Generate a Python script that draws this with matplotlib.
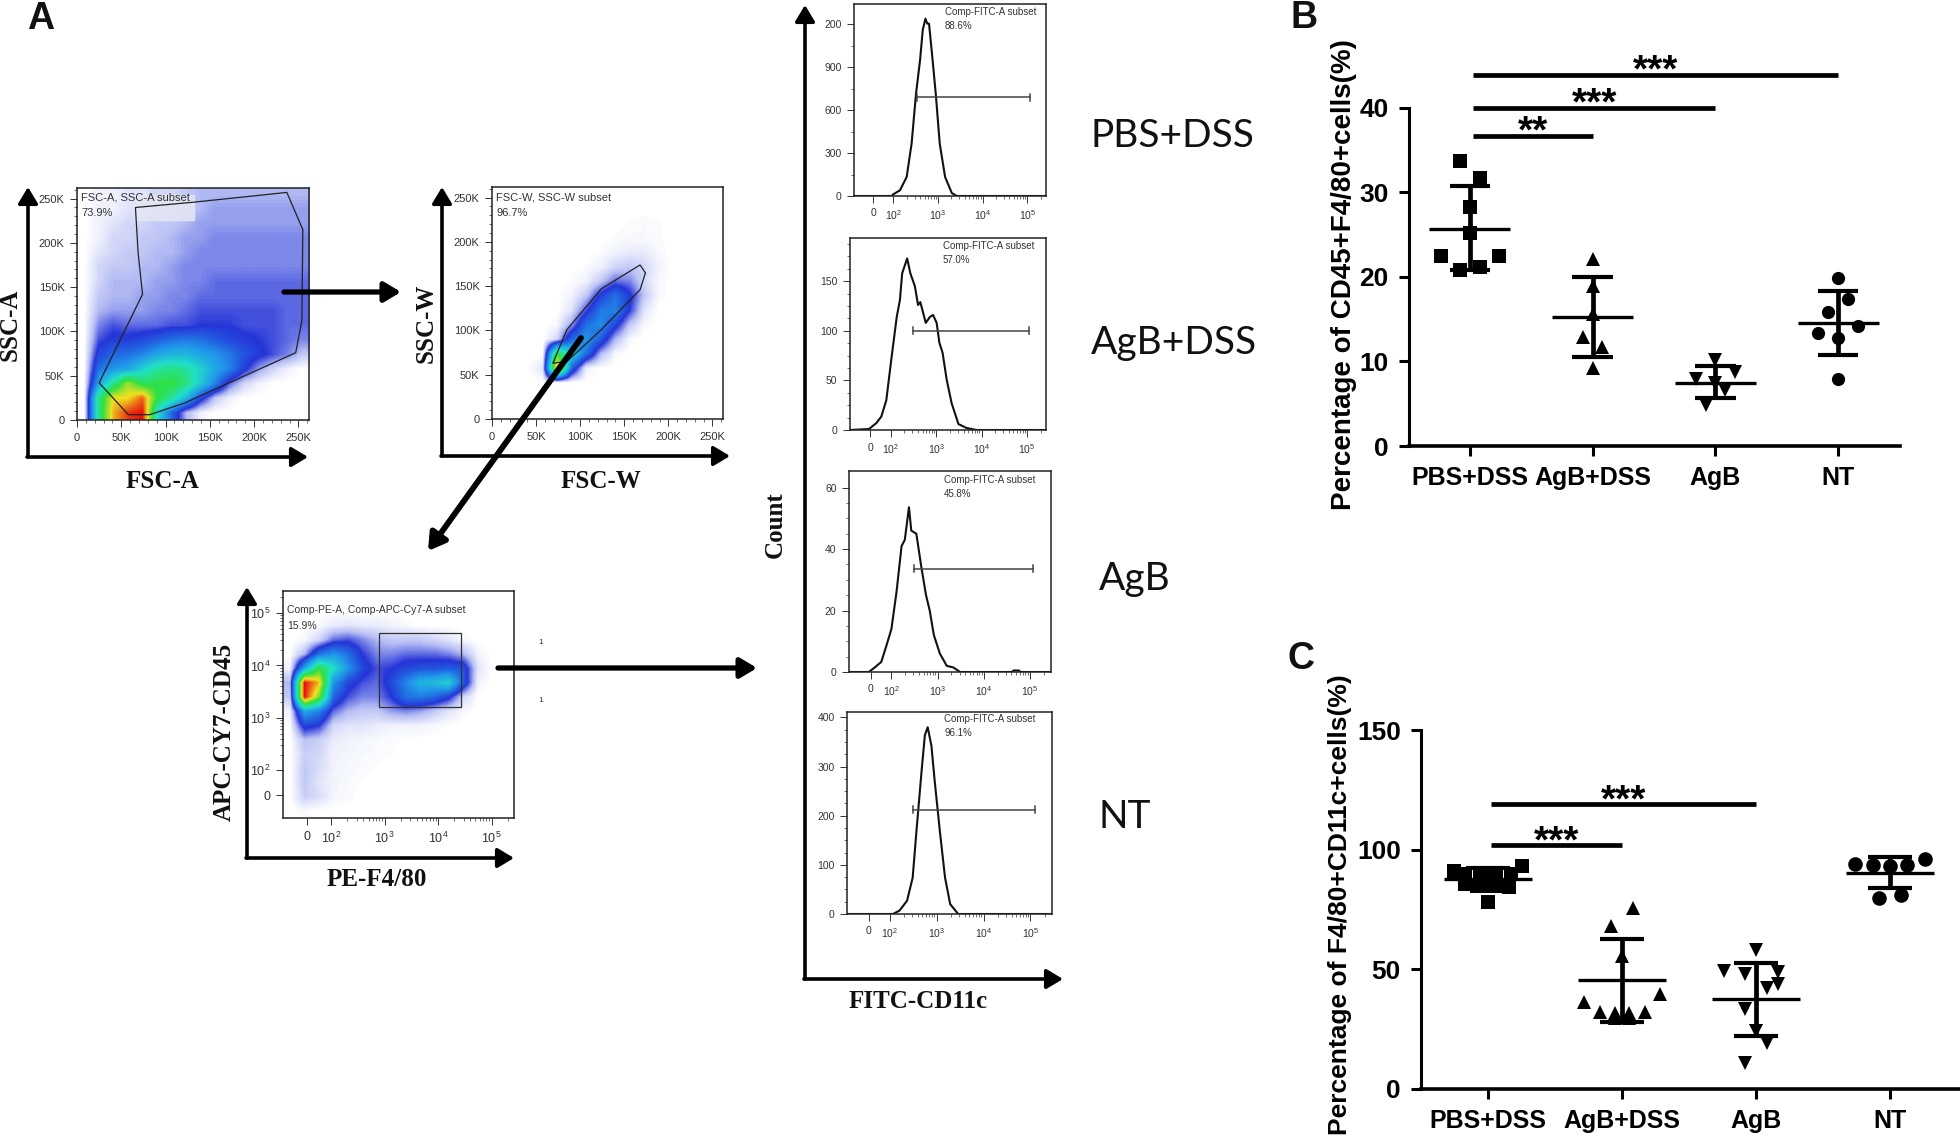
import matplotlib
matplotlib.use("Agg")
import matplotlib.pyplot as plt
import numpy as np
from matplotlib.colors import LinearSegmentedColormap
from matplotlib.patches import Polygon, Rectangle

W, H = 1960, 1142

# scatter panels
groups = ['PBS+DSS', 'AgB+DSS', 'AgB', 'NT']
markers = ['s', '^', 'v', 'o']

b_values = [[33.7, 31.7, 28.2, 25.2, 22.4, 22.5, 20.8, 21.2],
            [22.1, 18.9, 15.6, 12.9, 11.7, 9.2],
            [10.2, 8.8, 7.9, 7.4, 6.6, 4.9],
            [19.8, 17.4, 15.8, 14.2, 13.3, 12.8, 7.9]]
b_jitter = [[-0.08, 0.08, 0, 0, -0.24, 0.24, -0.08, 0.08],
            [0, 0, 0, -0.08, 0.08, 0],
            [0, 0.16, -0.16, 0, 0.08, -0.08],
            [0, 0.08, -0.08, 0.16, -0.16, 0, 0]]
b_mean = [25.7, 15.3, 7.5, 14.5]
b_upper = [30.7, 20.0, 9.4, 18.3]
b_lower = [20.8, 10.5, 5.7, 10.8]

c_values = [[90.9, 93.2, 89.7, 89.7, 89.7, 89.7, 85.6, 85.0, 85.0, 85.0, 84.2, 78.3],
            [75.8, 68.2, 55.7, 39.9, 36.5, 32.0, 31.6, 31.6, 32.3, 29.5, 29.5],
            [58.0, 49.1, 48.0, 48.7, 43.8, 42.4, 33.4, 24.3, 19.1, 10.7],
            [94.2, 95.9, 93.6, 93.2, 93.6, 80.0, 81.0]]
c_jitter = [[-0.25, 0.255, -0.17, -0.06, 0.06, 0.17, -0.17, -0.08, 0, 0.08, 0.16, 0],
            [0.085, -0.08, 0, 0.28, -0.28, -0.165, -0.055, 0.055, 0.17, -0.05, 0.05],
            [0, -0.24, -0.08, 0.165, 0.165, 0.085, -0.08, 0, 0.085, -0.08],
            [-0.26, 0.26, -0.13, 0, 0.13, -0.08, 0.08]]
c_mean = [87.7, 45.4, 37.4, 90.4]
c_upper = [92.2, 62.5, 52.7, 97.1]
c_lower = [83.5, 28.2, 22.1, 83.9]

# significance bars: start, end, height, stars
b_sig = [(0.024, 3.0, 43.8, '***'), (0.024, 2.0, 40.0, '***'), (0.024, 1.0, 36.6, '**')]
c_sig = [(0.025, 2.0, 119.0, '***'), (0.025, 1.0, 101.8, '***')]

# histogram curves, x in decades on the biexponential axis
h1_x = [1.12, 1.96, 2.0, 2.15, 2.30, 2.41, 2.51, 2.60, 2.66, 2.72, 2.76, 2.80, 2.88, 2.95, 3.04, 3.16, 3.31, 3.42, 5.42]
h1_y = [0, 0, 12, 40, 133, 366, 717, 950, 1160, 1238, 1203, 1203, 950, 717, 366, 133, 21, 0, 0]
h2_x = [1.10, 1.52, 1.68, 1.79, 1.90, 2.01, 2.13, 2.20, 2.25, 2.36, 2.43, 2.53, 2.60, 2.65, 2.77, 2.86, 2.93, 3.01, 3.07, 3.14, 3.23, 3.34, 3.49, 3.67, 3.89, 5.42]
h2_y = [0, 1, 7, 13.5, 30, 71, 114, 131, 158, 173, 158, 145, 126, 129, 108, 114, 116, 108, 88, 78, 51, 27, 6, 2, 0, 0]
h3_x = [1.08, 1.51, 1.64, 1.78, 1.89, 2.0, 2.11, 2.22, 2.29, 2.38, 2.43, 2.54, 2.65, 2.75, 2.83, 2.92, 3.05, 3.2, 3.34, 3.49, 4.61, 4.65, 4.76, 4.80, 5.46]
h3_y = [0, 0, 1.5, 3.3, 8.5, 14, 26, 41, 43, 53.6, 46, 45, 34, 25, 20, 12, 6, 2, 1.5, 0, 0, 0.5, 0.5, 0, 0]
h4_x = [1.09, 2.07, 2.21, 2.37, 2.49, 2.57, 2.68, 2.75, 2.81, 2.89, 2.96, 3.07, 3.18, 3.29, 3.46, 5.46]
h4_y = [0, 0, 7, 27, 74, 168, 291, 364, 380, 342, 270, 168, 74, 20, 0, 0]

# flow density read by eye, 0 white to 6 red, rows from the top
fsc_density = [
    [0, .1, .1, .2, .2, .3, .3, .4, .5, .5, .5, .5, .5, .5, .5, .5],
    [0, .1, .1, .2, .2, .3, .3, .4, .5, .6, .6, .6, .6, .6, .6, .6],
    [0, .1, .2, .3, .3, .4, .4, .5, .6, .6, .6, .6, .6, .6, .6, .6],
    [0, .1, .3, .3, .4, .4, .5, .6, .6, .7, .7, .7, .7, .7, .7, .7],
    [0, .2, .3, .4, .4, .5, .5, .6, .7, .7, .7, .7, .7, .7, .7, .7],
    [0, .3, .4, .4, .5, .5, .6, .7, .7, .7, .7, .7, .7, .7, .7, .7],
    [0, .3, .5, .5, .5, .6, .6, .7, .7, .8, .8, .8, .8, .8, .8, .8],
    [0, .4, .5, .5, .6, .6, .7, .7, .8, .8, .8, .8, .8, .8, .8, .8],
    [0, .5, .6, .6, .6, .7, .7, .8, .9, .9, .9, .9, .9, .9, .8, .8],
    [0, .7, .9, .8, .8, .8, .9, .9, 1, 1, 1, .9, .9, .9, .8, .8],
    [0, .9, 1.1, 1.1, 1.2, 1.4, 1.6, 1.7, 1.6, 1.4, 1.2, 1.1, 1, .9, .8, .7],
    [0, 1.2, 1.5, 1.6, 1.8, 2.2, 2.4, 2.4, 2.2, 2, 1.7, 1.3, 1.1, .9, .7, .4],
    [0, 1.6, 2, 2.2, 2.8, 3.3, 3.5, 3.3, 2.8, 2.2, 1.8, 1.1, .6, .3, .1, 0],
    [0, 2.2, 3.4, 4.6, 3.8, 3.9, 4, 3.6, 2.7, 1.8, .8, .3, .1, 0, 0, 0],
    [0, 3.5, 5, 5, 5.6, 4, 3.4, 2.4, 1.2, .4, .1, 0, 0, 0, 0, 0],
    [0, 3.5, 5.2, 5.8, 6, 3, 1.5, .5, .1, 0, 0, 0, 0, 0, 0, 0]]
ssw_density = [
    [0, 0, 0, 0, 0, 0, 0, 0, 0, 0, 0, 0, 0, 0, 0, 0],
    [0, 0, 0, 0, 0, 0, 0, 0, 0, 0, 0, 0, 0, 0, 0, 0],
    [0, 0, 0, 0, 0, 0, 0, 0, 0, .03, .05, .03, 0, 0, 0, 0],
    [0, 0, 0, 0, 0, 0, 0, 0, .03, .05, .05, .03, 0, 0, 0, 0],
    [0, 0, 0, 0, 0, 0, 0, .03, .1, .15, .15, .05, 0, 0, 0, 0],
    [0, 0, 0, 0, 0, 0, .03, .1, .3, .4, .3, .1, 0, 0, 0, 0],
    [0, 0, 0, 0, 0, .03, .1, .4, .8, .7, .3, .05, 0, 0, 0, 0],
    [0, 0, 0, 0, 0, .1, .4, 1.1, 1.6, 1.1, .4, .05, 0, 0, 0, 0],
    [0, 0, 0, 0, 0, .2, .9, 1.7, 1.8, 1, .2, 0, 0, 0, 0, 0],
    [0, 0, 0, 0, .05, .6, 1.6, 1.9, 1.2, .4, .05, 0, 0, 0, 0, 0],
    [0, 0, 0, 0, .3, 1.5, 2, 1.4, .5, .05, 0, 0, 0, 0, 0, 0],
    [0, 0, 0, 0, 4, 2.8, 1.6, .5, .05, 0, 0, 0, 0, 0, 0, 0],
    [0, 0, 0, .2, 5.5, 1.5, .1, 0, 0, 0, 0, 0, 0, 0, 0, 0],
    [0, 0, 0, 0, 0, 0, 0, 0, 0, 0, 0, 0, 0, 0, 0, 0],
    [0, 0, 0, 0, 0, 0, 0, 0, 0, 0, 0, 0, 0, 0, 0, 0],
    [0, 0, 0, 0, 0, 0, 0, 0, 0, 0, 0, 0, 0, 0, 0, 0]]
pe_density = [
    [0, 0, 0, 0, 0, 0, 0, 0, 0, 0, 0, 0, 0, 0, 0, 0],
    [0, 0, 0, 0, 0, 0, 0, 0, 0, 0, 0, 0, 0, 0, 0, 0],
    [0, 0, .05, .15, .2, .15, .15, .1, .05, 0, 0, 0, 0, 0, 0, 0],
    [0, .05, .3, .8, .9, .7, .5, .4, .4, .4, .3, .2, .05, 0, 0, 0],
    [0, .5, 1.6, 2, 1.6, 1, .7, .7, .8, .8, .8, .7, .5, .1, 0, 0],
    [.1, 2.2, 4, 3, 2, 1.2, .9, 1, 1.2, 1.3, 1.3, 1.4, 1.3, .2, 0, 0],
    [.5, 6, 5.2, 2, 1.2, .9, .8, 1.2, 1.8, 2.4, 2.5, 2.8, 1.4, .1, 0, 0],
    [.4, 6, 4.4, 1.5, .9, .7, .7, 1, 1.6, 1.7, 1.5, 1.1, .3, 0, 0, 0],
    [.1, 2.2, 1.8, .8, .5, .4, .4, .6, .7, .6, .4, .2, .05, 0, 0, 0],
    [.02, 1.2, 1, .3, .2, .2, .15, .1, .1, .1, .05, .02, 0, 0, 0, 0],
    [0, .45, .35, .15, .1, .08, .05, .03, .02, 0, 0, 0, 0, 0, 0, 0],
    [0, .35, .3, .1, .08, .05, .04, .03, 0, 0, 0, 0, 0, 0, 0, 0],
    [0, .4, .25, .1, .06, .04, .02, 0, 0, 0, 0, 0, 0, 0, 0, 0],
    [0, .4, .2, .08, .05, .02, 0, 0, 0, 0, 0, 0, 0, 0, 0, 0],
    [0, .35, .25, .08, .04, 0, 0, 0, 0, 0, 0, 0, 0, 0, 0, 0],
    [0, .05, 0, 0, 0, 0, 0, 0, 0, 0, 0, 0, 0, 0, 0, 0]]

fsc_gate = [(66, 240), (69, 189), (74, 142), (25, 42), (58, 6), (82, 6), (121, 19), (247, 76),
            (254, 113), (255, 215), (237, 257), (132, 246)]
ssw_gate = [(69, 63), (85, 101), (124, 147), (168, 174), (174, 165), (168, 146), (124, 101), (85, 65)]

k_ticks = [0, 50, 100, 150, 200, 250]
k_labels = ['0', '50K', '100K', '150K', '200K', '250K']
log_ticks = [1.55, 2, 3, 4, 5]
log_labels = ['0', r'$\mathregular{10^{2}}$', r'$\mathregular{10^{3}}$', r'$\mathregular{10^{4}}$', r'$\mathregular{10^{5}}$']

SANS = ['Liberation Sans', 'DejaVu Sans']
SERIF = ['Liberation Serif', 'DejaVu Serif']
GREY = '#333333'

flow_cmap = LinearSegmentedColormap.from_list('flow', [
    (0, '#ffffff'), (0.08, '#b4bcf4'), (1 / 6, '#2535d8'), (2 / 6, '#2098ea'),
    (3 / 6, '#20e0c8'), (4 / 6, '#30e040'), (5 / 6, '#f0e020'), (1, '#e81010')])

fig = plt.figure(figsize=(W / 100, H / 100), dpi=100)


def pxAxes(x0, y0, x1, y1):
    return fig.add_axes([x0 / W, 1 - y1 / H, (x1 - x0) / W, (y1 - y0) / H])


def flowStyle(ax, size=8):
    for s in ax.spines.values():
        s.set_linewidth(1.1)
        s.set_color('#222222')
    ax.tick_params(which='major', length=5, width=0.7, color=GREY, pad=4, labelsize=size, labelcolor=GREY)
    ax.tick_params(which='minor', length=2.5, width=0.5, color=GREY)
    for t in ax.get_xticklabels() + ax.get_yticklabels():
        t.set_family(SANS)


def makeDensityPanel(box, density, lims, xt, xl, yt, yl):
    ax = pxAxes(*box)
    ax.imshow(density, extent=[lims[0], lims[1], lims[2], lims[3]], origin='upper', aspect='auto',
              cmap=flow_cmap, vmin=0, vmax=6, interpolation='bilinear')
    ax.set_xlim(lims[0], lims[1])
    ax.set_ylim(lims[2], lims[3])
    ax.set_xticks(xt)
    ax.set_xticklabels(xl)
    ax.set_yticks(yt)
    ax.set_yticklabels(yl)
    return ax


def logMinor(low, high):
    ticks = []
    for d in range(2, 6):
        for m in range(2, 10):
            p = d + np.log10(m)
            if low < p < high:
                ticks.append(p)
    return ticks


def makeHistogram(box, xs, ys, xlim, ymax, yt, yl, ym, gate_y, gate_x):
    ax = pxAxes(*box)
    ax.plot(xs, ys, color='#111111', lw=1.5)
    ax.plot(gate_x, [gate_y, gate_y], color='#444444', lw=1.1)
    for g in gate_x:
        ax.plot([g, g], [gate_y - ymax * 0.018, gate_y + ymax * 0.018], color='#444444', lw=1.1)
    ax.set_xlim(*xlim)
    ax.set_ylim(0, ymax)
    ax.set_xticks(log_ticks)
    ax.set_xticklabels(log_labels)
    ax.set_xticks(logMinor(xlim[0], xlim[1]), minor=True)
    ax.set_yticks(yt)
    ax.set_yticklabels(yl)
    ax.set_yticks(ym, minor=True)
    flowStyle(ax, 7.5)
    return ax


def makeScatter(box, xlim, ylim, values, jitter, mean, upper, lower, yt, sig, star_off, msize):
    ax = pxAxes(*box)
    for i in range(4):
        xs = [i + j for j in jitter[i]]
        ax.plot(xs, values[i], linestyle='none', marker=markers[i], color='k', ms=msize, mew=0, zorder=3)
        ax.plot([i, i], [lower[i], upper[i]], color='k', lw=3.4, zorder=2, solid_capstyle='butt')
        ax.plot([i - 0.165, i + 0.165], [upper[i], upper[i]], color='k', lw=3.0, zorder=4, solid_capstyle='butt')
        ax.plot([i - 0.165, i + 0.165], [lower[i], lower[i]], color='k', lw=3.0, zorder=4, solid_capstyle='butt')
        ax.plot([i - 0.33, i + 0.33], [mean[i], mean[i]], color='k', lw=2.4, zorder=4, solid_capstyle='butt')
    for start, end, height, stars in sig:
        ax.plot([start, end], [height, height], color='k', lw=3.4, clip_on=False, solid_capstyle='butt')
        ax.text((start + end) / 2, height + star_off, stars, ha='center', va='center',
                family=SANS, fontweight='bold', fontsize=28)
    ax.set_xlim(*xlim)
    ax.set_ylim(*ylim)
    ax.set_xticks(range(4))
    ax.set_xticklabels(groups)
    ax.set_yticks(yt)
    ax.spines['top'].set_visible(False)
    ax.spines['right'].set_visible(False)
    ax.spines['left'].set_linewidth(2.2)
    ax.spines['bottom'].set_linewidth(2.6)
    ax.tick_params(length=7.5, width=2.2, pad=7)
    ax.patch.set_alpha(0)
    for t in ax.get_xticklabels():
        t.set_family(SANS)
        t.set_fontweight('bold')
        t.set_fontsize(18)
    for t in ax.get_yticklabels():
        t.set_family(SANS)
        t.set_fontweight('bold')
        t.set_fontsize(19)
    return ax


# flow panels
a1 = makeDensityPanel((77, 188, 309, 420), fsc_density, (0, 262, 0, 262), k_ticks, k_labels, k_ticks, k_labels)
a1.set_xticks(range(10, 262, 10), minor=True)
a1.set_yticks(range(10, 262, 10), minor=True)
a1.add_patch(Rectangle((66, 226), 66, 28, color='#e4e6f2', alpha=0.85, zorder=3))
a1.add_patch(Polygon(fsc_gate, closed=True, fill=False, edgecolor='#222222', lw=0.9, zorder=4))
flowStyle(a1)

a2 = makeDensityPanel((492, 187, 723, 419), ssw_density, (0, 262, 0, 262), k_ticks, k_labels, k_ticks, k_labels)
a2.set_xticks(range(10, 262, 10), minor=True)
a2.set_yticks(range(10, 262, 10), minor=True)
a2.add_patch(Polygon(ssw_gate, closed=True, fill=False, edgecolor='#222222', lw=0.9, zorder=4))
flowStyle(a2)

a3 = makeDensityPanel((283, 591, 514, 818), pe_density, (1.10, 5.42, 1.09, 5.42), log_ticks, log_labels,
                      [1.52, 2, 3, 4, 5], log_labels)
a3.set_xticks(logMinor(1.1, 5.42), minor=True)
a3.set_yticks(logMinor(1.09, 5.42), minor=True)
a3.add_patch(Rectangle((2.89, 3.21), 1.53, 1.4, fill=False, edgecolor='#333333', lw=0.9, zorder=4))
flowStyle(a3, 9)

# histograms
makeHistogram((854, 4, 1046, 196), h1_x, h1_y, (1.12, 5.42), 1340, [0, 300, 600, 900, 1200],
              ['0', '300', '600', '900', '200'], [150, 450, 750, 1050], 689, [2.52, 5.06])
makeHistogram((850, 238, 1046, 430), h2_x, h2_y, (1.10, 5.42), 193.6, [0, 50, 100, 150],
              ['0', '50', '100', '150'], [12.5, 25, 37.5, 62.5, 75, 87.5, 112.5, 125, 137.5, 162.5, 175, 187.5],
              100, [2.48, 5.05])
makeHistogram((849, 471, 1051, 672), h3_x, h3_y, (1.08, 5.46), 65.4, [0, 20, 40, 60],
              ['0', '20', '40', '60'], [5, 10, 15, 25, 30, 35, 45, 50, 55], 33.6, [2.49, 5.08])
makeHistogram((847, 712, 1052, 914), h4_x, h4_y, (1.09, 5.46), 411, [0, 100, 200, 300, 400],
              ['0', '100', '200', '300', '400'], [25, 50, 75, 125, 150, 175, 225, 250, 275, 325, 350, 375],
              212, [2.49, 5.09])

# dot plots
makeScatter((1409, 107.5, 1900, 446), (-0.497, 3.505), (0, 40), b_values, b_jitter, b_mean, b_upper, b_lower,
            [0, 10, 20, 30, 40], b_sig, 0.4, 9.5)
makeScatter((1421, 730, 1959, 1089), (-0.5, 3.515), (0, 150), c_values, c_jitter, c_mean, c_upper, c_lower,
            [0, 50, 100, 150], c_sig, 1.3, 10.5)

# everything placed by pixel: arrows and labels
ov = fig.add_axes([0, 0, 1, 1], zorder=10)
ov.set_xlim(0, W)
ov.set_ylim(H, 0)
ov.axis('off')


def arrow(x0, y0, x1, y1, lw=2.6, ms=22):
    ov.annotate('', xy=(x1, y1), xytext=(x0, y0),
                arrowprops=dict(arrowstyle='-|>,head_length=0.45,head_width=0.27', lw=lw, color='k',
                                mutation_scale=ms, shrinkA=0, shrinkB=0))


def corner(x, top, bottom, right):
    arrow(x, bottom, x, top)
    arrow(x - 1, bottom, right, bottom)


corner(28, 187, 457, 308)
corner(442, 187, 456, 730)
corner(247, 587, 858, 514)
corner(805, 5, 979, 1063)
arrow(284, 292, 401, 292, lw=3.8)
arrow(581, 338, 428, 551, lw=4.2)
arrow(498, 668, 757, 668, lw=3.8)


def serif(x, y, s, rot=0, size=18):
    ov.text(x, y, s, family=SERIF, fontweight='bold', fontsize=size, rotation=rot, ha='center', va='center',
            color='#111111')


serif(10, 325, 'SSC-A', 90)
serif(162, 482, 'FSC-A')
serif(426, 323, 'SSC-W', 90)
serif(601, 482, 'FSC-W')
serif(224, 732, 'APC-CY7-CD45', 90)
serif(377, 880, 'PE-F4/80')
serif(775, 525, 'Count', 90)
serif(918, 1001, 'FITC-CD11c')


def small(x, y, s, size=8):
    ov.text(x, y, s, family=SANS, fontsize=size, ha='left', va='center', color=GREY)


small(81, 197, 'FSC-A, SSC-A subset')
small(81, 213, '73.9%')
small(496, 197, 'FSC-W, SSC-W subset')
small(496, 213, '96.7%')
small(287, 610, 'Comp-PE-A, Comp-APC-Cy7-A subset', 7.5)
small(287, 626, '15.9%', 7.5)
small(538, 642, '1', 6)
small(538, 701, '1', 6)
for x, y, pct in [(945, 12, '88.6%'), (943, 246, '57.0%'), (944, 480, '45.8%'), (944, 719, '96.1%')]:
    small(x, y, 'Comp-FITC-A subset', 7)
    small(x, y + 14, pct, 7)

for x, y, s in [(1172, 136, 'PBS+DSS'), (1174, 343, 'AgB+DSS'), (1135, 579, 'AgB'), (1125, 817, 'NT')]:
    ov.text(x, y, s, family=['Lato', 'Open Sans'], fontsize=28, ha='center', va='center', color='#111111')

for x, y, s in [(41, 19, 'A'), (1304, 18, 'B'), (1301, 659, 'C')]:
    ov.text(x, y, s, family=SANS, fontweight='bold', fontsize=27, ha='center', va='center', color='#111111')

ov.text(1344, 275, 'Percentage of CD45+F4/80+cells(%)', family=SANS, fontweight='bold', fontsize=20,
        rotation=90, ha='center', va='center')
ov.text(1340, 905, 'Percentage of F4/80+CD11c+cells(%)', family=SANS, fontweight='bold', fontsize=19,
        rotation=90, ha='center', va='center')

fig.savefig('out.png', dpi=100)
